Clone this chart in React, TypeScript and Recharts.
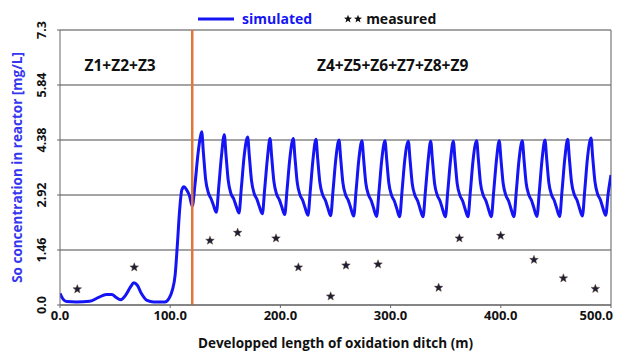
import {
  ComposedChart,
  Line,
  Scatter,
  XAxis,
  YAxis,
  CartesianGrid,
  ReferenceLine,
  ReferenceArea,
  Legend,
  Label,
} from "recharts";

// simulated dissolved oxygen along the ditch (m, mg/L)
const simX = [
  0, 3, 6, 15, 27, 35, 42, 47, 51, 55, 60, 64, 67, 70, 74, 79, 85, 95, 99, 102,
  104.5, 106.5, 108.5, 110.5, 112.5, 115, 117.5, 120, 122.5, 125, 127,
  128.6, 130.1, 132.1, 134.6, 137.1, 139.1, 141.9, 144.1, 146.6,
  149.1, 150.6, 152.6, 155.1, 157.6, 159.6, 162.4, 164.6, 167.1,
  170.3, 171.8, 173.8, 176.3, 178.8, 180.8, 183.6, 185.8, 188.3,
  190.6, 192.1, 194.1, 196.6, 199.1, 201.1, 203.9, 206.1, 208.6,
  211.7, 213.2, 215.2, 217.7, 220.2, 222.2, 225.0, 227.2, 229.7,
  232.3, 233.8, 235.8, 238.3, 240.8, 242.8, 245.6, 247.8, 250.3,
  253.2, 254.7, 256.7, 259.2, 261.7, 263.7, 266.5, 268.7, 271.2,
  274.0, 275.5, 277.5, 280.0, 282.5, 284.5, 287.3, 289.5, 292.0,
  294.9, 296.4, 298.4, 300.9, 303.4, 305.4, 308.2, 310.4, 312.9,
  316.1, 317.6, 319.6, 322.1, 324.6, 326.6, 329.4, 331.6, 334.1,
  336.4, 337.9, 339.9, 342.4, 344.9, 346.9, 349.7, 351.9, 354.4,
  356.9, 358.4, 360.4, 362.9, 365.4, 367.4, 370.2, 372.4, 374.9,
  378.1, 379.6, 381.6, 384.1, 386.6, 388.6, 391.4, 393.6, 396.1,
  398.6, 400.1, 402.1, 404.6, 407.1, 409.1, 411.9, 414.1, 416.6,
  419.5, 421.0, 423.0, 425.5, 428.0, 430.0, 432.8, 435.0, 437.5,
  440.1, 441.6, 443.6, 446.1, 448.6, 450.6, 453.4, 455.6, 458.1,
  460.7, 462.2, 464.2, 466.7, 469.2, 471.2, 474.0, 476.2, 478.7,
  481.9, 483.4, 485.4, 487.9, 490.4, 492.4, 495.2, 497.4, 500,
];
const simY = [
  0.31, 0.15, 0.09, 0.08, 0.1, 0.2, 0.28, 0.28, 0.2, 0.14, 0.28, 0.48, 0.59, 0.53, 0.3, 0.12, 0.08, 0.08, 0.18, 0.4,
  0.8, 1.6, 2.5, 3.05, 3.14, 3.05, 2.9, 2.62, 3.2, 3.95, 4.4,
  4.6, 4.05, 3.35, 2.98, 2.82, 2.66, 2.46, 3.15, 3.98,
  4.52, 4.0, 3.32, 2.96, 2.82, 2.65, 2.44, 3.12, 3.95,
  4.46, 3.96, 3.3, 2.95, 2.8, 2.62, 2.42, 3.1, 3.92,
  4.42, 3.93, 3.28, 2.94, 2.79, 2.62, 2.4, 3.08, 3.9,
  4.42, 3.92, 3.27, 2.93, 2.78, 2.6, 2.38, 3.06, 3.9,
  4.4, 3.9, 3.26, 2.93, 2.78, 2.6, 2.37, 3.05, 3.88,
  4.38, 3.89, 3.25, 2.92, 2.77, 2.59, 2.36, 3.04, 3.87,
  4.36, 3.88, 3.24, 2.92, 2.77, 2.58, 2.35, 3.03, 3.86,
  4.36, 3.88, 3.24, 2.91, 2.76, 2.58, 2.34, 3.03, 3.86,
  4.35, 3.87, 3.23, 2.91, 2.76, 2.57, 2.34, 3.02, 3.85,
  4.35, 3.87, 3.23, 2.91, 2.76, 2.57, 2.34, 3.02, 3.85,
  4.35, 3.87, 3.23, 2.91, 2.76, 2.57, 2.34, 3.02, 3.86,
  4.36, 3.88, 3.23, 2.91, 2.76, 2.57, 2.34, 3.03, 3.86,
  4.36, 3.88, 3.24, 2.91, 2.76, 2.57, 2.34, 3.03, 3.87,
  4.36, 3.88, 3.24, 2.92, 2.77, 2.58, 2.35, 3.03, 3.88,
  4.38, 3.89, 3.25, 2.92, 2.77, 2.58, 2.35, 3.04, 3.89,
  4.4, 3.9, 3.26, 2.93, 2.78, 2.59, 2.36, 3.05, 3.91,
  4.43, 3.92, 3.28, 2.94, 2.79, 2.6, 2.38, 2.95, 3.45,
];

// measured points
const measX = [15.7, 67.4, 136.1, 161.2, 196, 216.3, 245.6, 259.5, 288.6, 343.6, 362.4, 399.9, 430.1, 456.8, 485.8];
const measY = [0.42, 1.0, 1.71, 1.92, 1.77, 1.0, 0.23, 1.05, 1.08, 0.46, 1.77, 1.84, 1.2, 0.71, 0.43];

const xTicks = [0, 100, 200, 300, 400, 500];
const yTicks = [0, 1.46, 2.92, 4.38, 5.84, 7.3];
const yTickLabels = ["0.0", "1.46", "2.92", "4.38", "5.84", "7.3"];
const zoneSplit = 120;
const zoneNames = ["Z1+Z2+Z3", "Z4+Z5+Z6+Z7+Z8+Z9"];

const simData = simX.map((x, i) => ({ x, y: simY[i] }));
const measData = measX.map((x, i) => ({ x, y: measY[i] }));

const BLUE = "#1414f5";
const FONT = "'Open Sans', sans-serif";

function starPoints(cx: number, cy: number, ro: number, ri: number) {
  const pts: string[] = [];
  for (let i = 0; i < 10; i++) {
    const r = i % 2 === 0 ? ro : ri;
    const a = -Math.PI / 2 + (i * Math.PI) / 5;
    pts.push(`${cx + r * Math.cos(a)},${cy + r * Math.sin(a)}`);
  }
  return pts.join(" ");
}

function Star(props: any) {
  const { cx, cy } = props;
  return <polygon points={starPoints(cx, cy, 4.6, 2)} fill="#1e1e36" stroke="#6b5238" strokeWidth={0.4} />;
}

function XTick(props: any) {
  const { x, y, payload } = props;
  const last = payload.value === xTicks[xTicks.length - 1];
  return (
    <text
      x={last ? x + 2 : x}
      y={y + 10}
      textAnchor={last ? "end" : "middle"}
      fontSize={13}
      fontWeight={700}
      fill="#111"
    >
      {Number(payload.value).toFixed(1)}
    </text>
  );
}

function YTick(props: any) {
  const { x, y, payload } = props;
  const idx = yTicks.indexOf(payload.value);
  const tx = x - 14;
  return (
    <text
      x={tx}
      y={y}
      transform={`rotate(-90, ${tx}, ${y})`}
      textAnchor="middle"
      dominantBaseline="central"
      fontSize={12.5}
      fontWeight={700}
      fill="#111"
    >
      {idx >= 0 ? yTickLabels[idx] : payload.value}
    </text>
  );
}

function YTitle(props: any) {
  const { viewBox } = props;
  const x = viewBox.x + 17;
  const y = viewBox.y + viewBox.height / 2;
  return (
    <text
      x={x}
      y={y}
      transform={`rotate(-90, ${x}, ${y})`}
      textAnchor="middle"
      dominantBaseline="central"
      fontSize={13.5}
      fontWeight={700}
      fill="#3636f0"
    >
      So concentration in reactor [mg/L]
    </text>
  );
}

function LegendBox() {
  return (
    <div style={{ display: "flex", alignItems: "center", fontWeight: 700, fontSize: 14, fontFamily: FONT }}>
      <svg width={36} height={10}>
        <line x1={0} y1={5} x2={36} y2={5} stroke={BLUE} strokeWidth={3} />
      </svg>
      <span style={{ color: BLUE, marginLeft: 8 }}>simulated</span>
      <svg width={24} height={12} style={{ marginLeft: 30 }}>
        <polygon points={starPoints(6, 6, 4.2, 1.8)} fill="#111" />
        <polygon points={starPoints(16, 6, 4.2, 1.8)} fill="#111" />
      </svg>
      <span style={{ color: "#111" }}>measured</span>
    </div>
  );
}

export default function App() {
  return (
    <div style={{ position: "absolute", left: 0, top: 0, fontFamily: FONT, background: "#fff" }}>
      <ComposedChart width={625} height={352} margin={{ top: 30, right: 14, left: 0, bottom: 0 }}>
        <CartesianGrid horizontal vertical={false} stroke="#4a4a4a" strokeWidth={1.2} />
        <XAxis
          type="number"
          dataKey="x"
          domain={[0, 500]}
          ticks={xTicks}
          allowDataOverflow
          height={47}
          tickSize={3}
          stroke="#666"
          tick={<XTick />}
        >
          <Label
            value="Developped length of oxidation ditch (m)"
            position="insideBottom"
            offset={4}
            fill="#111"
            fontSize={13.5}
            fontWeight={700}
          />
        </XAxis>
        <YAxis
          type="number"
          domain={[0, 7.3]}
          ticks={yTicks}
          width={60}
          tickSize={3}
          stroke="#666"
          tick={<YTick />}
        >
          <Label content={<YTitle />} />
        </YAxis>
        <ReferenceLine x={500} stroke="#777" strokeWidth={1.2} />
        <ReferenceArea
          x1={0}
          x2={zoneSplit}
          y1={5.84}
          y2={7.3}
          fill="none"
          fillOpacity={0}
          label={{ value: zoneNames[0], position: "center", dx: -6, dy: 8, fill: "#111", fontSize: 15.5, fontWeight: 700 }}
        />
        <ReferenceArea
          x1={zoneSplit}
          x2={500}
          y1={5.84}
          y2={7.3}
          fill="none"
          fillOpacity={0}
          label={{ value: zoneNames[1], position: "center", dx: -9, dy: 8, fill: "#111", fontSize: 15.5, fontWeight: 700 }}
        />
        <Line
          data={simData}
          dataKey="y"
          type="monotone"
          stroke={BLUE}
          strokeWidth={3}
          dot={false}
          activeDot={false}
          isAnimationActive={false}
        />
        <Scatter data={measData} dataKey="y" shape={<Star />} isAnimationActive={false} />
        <ReferenceLine x={zoneSplit} stroke="#e0763a" strokeWidth={2.5} />
        <Legend
          layout="horizontal"
          verticalAlign="middle"
          align="center"
          content={<LegendBox />}
          wrapperStyle={{ top: 9, left: 198, width: 320, height: 20 }}
        />
      </ComposedChart>
    </div>
  );
}
